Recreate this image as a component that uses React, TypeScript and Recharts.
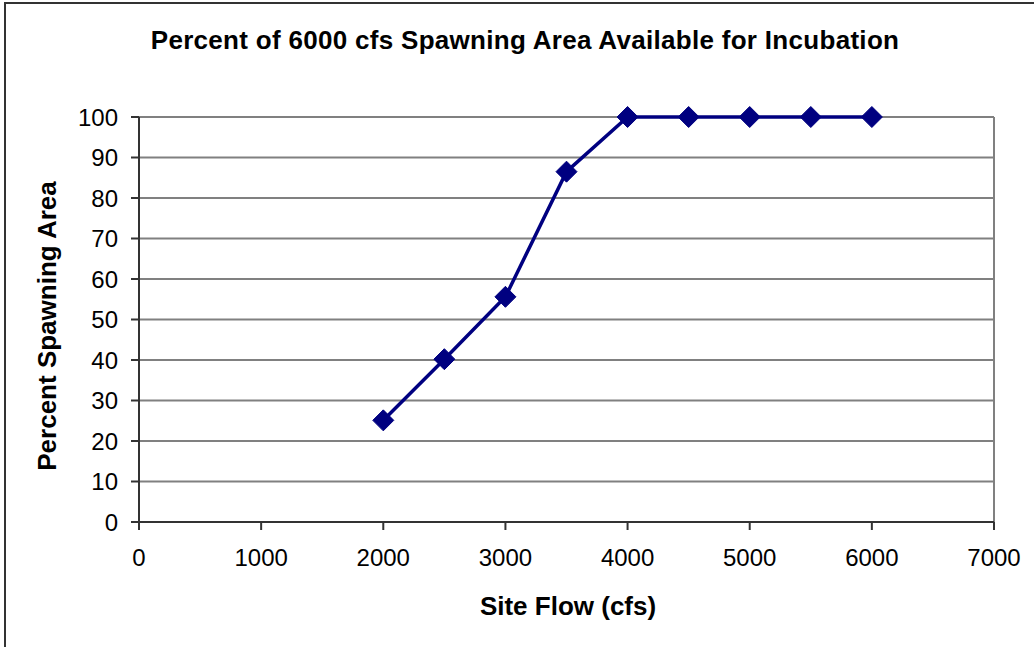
import { LineChart, Line, XAxis, YAxis, CartesianGrid, ReferenceLine } from 'recharts';

const flows = [2000, 2500, 3000, 3500, 4000, 4500, 5000, 5500, 6000];
const percentArea = [25.1, 40.2, 55.6, 86.5, 100, 100, 100, 100, 100];
const xTicks = [0, 1000, 2000, 3000, 4000, 5000, 6000, 7000];
const yTicks = [0, 10, 20, 30, 40, 50, 60, 70, 80, 90, 100];

const data = flows.map((flow, i) => ({ flow, pct: percentArea[i] }));

const FONT = 'Arial, "Liberation Sans", sans-serif';

// diamond marker like the old spreadsheet charts
function Diamond(props: any) {
  const { cx, cy } = props;
  if (cx == null || cy == null) return null;
  const r = 10.5;
  return (
    <polygon
      points={`${cx},${cy - r} ${cx + r},${cy} ${cx},${cy + r} ${cx - r},${cy}`}
      fill="#000080"
      stroke="#000080"
    />
  );
}

export default function App() {
  return (
    <div style={{ position: 'fixed', left: 0, top: 0, width: 1034, height: 647, background: '#fff', overflow: 'hidden', fontFamily: FONT }}>
      <div style={{ position: 'absolute', left: 4, top: 2, width: 1100, height: 700, borderLeft: '2px solid #333', borderTop: '2px solid #333' }} />
      <div style={{ position: 'absolute', left: 525, top: 40, transform: 'translate(-50%, -50%)', whiteSpace: 'nowrap', fontWeight: 'bold', fontSize: 26, letterSpacing: 0.3, color: '#000' }}>
        Percent of 6000 cfs Spawning Area Available for Incubation
      </div>
      <div style={{ position: 'absolute', left: 47, top: 326, transform: 'translate(-50%, -50%) rotate(-90deg)', whiteSpace: 'nowrap', fontWeight: 'bold', fontSize: 26, color: '#000' }}>
        Percent Spawning Area
      </div>
      <div style={{ position: 'absolute', left: 568, top: 606, transform: 'translate(-50%, -50%)', whiteSpace: 'nowrap', fontWeight: 'bold', fontSize: 26, color: '#000' }}>
        Site Flow (cfs)
      </div>
      <div style={{ position: 'absolute', left: 0, top: 0 }}>
        <LineChart width={1034} height={647} data={data} margin={{ top: 117, right: 40, left: 79, bottom: 85 }}>
          <CartesianGrid vertical={false} stroke="#808080" strokeWidth={2} />
          <ReferenceLine x={7000} stroke="#808080" strokeWidth={2} />
          <XAxis
            dataKey="flow"
            type="number"
            domain={[0, 7000]}
            ticks={xTicks}
            height={40}
            stroke="#333"
            strokeWidth={2}
            tickSize={8}
            tickMargin={19}
            tick={{ fill: '#000', fontSize: 24, fontFamily: FONT }}
          />
          <YAxis
            type="number"
            domain={[0, 100]}
            ticks={yTicks}
            width={60}
            stroke="#333"
            strokeWidth={2}
            tickSize={8}
            tickMargin={13}
            tick={{ fill: '#000', fontSize: 24, fontFamily: FONT }}
          />
          <Line
            dataKey="pct"
            stroke="#000080"
            strokeWidth={3.5}
            dot={<Diamond />}
            activeDot={false}
            isAnimationActive={false}
          />
        </LineChart>
      </div>
    </div>
  );
}
